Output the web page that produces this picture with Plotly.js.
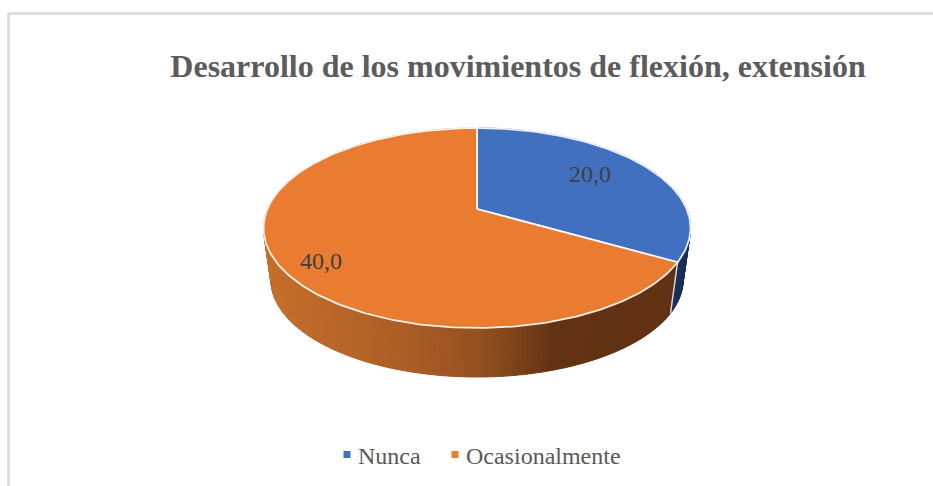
<!DOCTYPE html>
<html><head><meta charset="utf-8">
<script src="https://cdn.plot.ly/plotly-3.0.1.min.js"></script>
<style>html,body{margin:0;padding:0;background:#fff}#c{width:933px;height:486px}
.legendsymbols{transform:translateX(9px)}</style>
</head><body><div id="c"></div>
<script>
const categories = ["Nunca", "Ocasionalmente"];
const values = [20, 40];
const labels = ["20,0", "40,0"];
const colors = ["#4270C0", "#EA7C31"];
const chartTitle = "Desarrollo de los movimientos de flexión, extensión";

// Perspective projection of the pie disc onto the page
const cx = 477, tilt = 0.19;
const topDisc = {rx: 213.5, ry: 100, cy: 228};
const botDisc = {rx: 206, ry: 97, cy: 280};
function proj(d, r, thetaDeg){
  const t = thetaDeg * Math.PI / 180, u = r * Math.sin(t), v = r * Math.cos(t);
  const den = 1 + tilt * v;
  return [cx + d.rx * u * Math.sqrt(1 - tilt * tilt) / den, d.cy - d.ry * (v + tilt) / den];
}
function lerpHex(stops, x){
  let i = 0;
  while (i < stops.length - 2 && x > stops[i + 1][0]) i++;
  const a = stops[i], b = stops[i + 1];
  const f = Math.max(0, Math.min(1, (x - a[0]) / (b[0] - a[0])));
  return "rgb(" + [0,1,2].map(k => Math.round(a[1][k] + (b[1][k] - a[1][k]) * f)).join(",") + ")";
}
const orangeWall = [[265,[198,110,43]],[400,[172,94,38]],[480,[148,80,32]],[555,[98,50,19]],[700,[96,48,18]]];
const blueWall = [[640,[26,47,90]],[700,[26,47,90]]];
const wallStops = [blueWall, orangeWall];

const total = values.reduce((a, b) => a + b, 0);
const traces = [];
let start = 0;
const spans = values.map(v => { const s = [start, start + v / total * 360]; start = s[1]; return s; });

// side walls, drawn first so that the top covers them
spans.forEach((sp, i) => {
  const n = Math.max(4, Math.round(sp[1] - sp[0]));
  for (let k = 0; k < n; k++) {
    const a = sp[0] + (sp[1] - sp[0]) * k / n, b = sp[0] + (sp[1] - sp[0]) * (k + 1) / n;
    const p = [proj(topDisc,1,a), proj(topDisc,1,b), proj(botDisc,1,b), proj(botDisc,1,a), proj(topDisc,1,a)];
    const col = lerpHex(wallStops[i], (p[0][0] + p[1][0]) / 2);
    traces.push({x: p.map(q => q[0]), y: p.map(q => q[1]), mode: "lines", fill: "toself",
      fillcolor: col, line: {color: col, width: 1}, hoverinfo: "skip", showlegend: false});
  }
});
// seam between the two walls
const seamA = proj(topDisc,1,spans[0][1]), seamB = proj(botDisc,1,spans[0][1]);
traces.push({x:[seamA[0],seamB[0]], y:[seamA[1],seamB[1]], mode:"lines",
  line:{color:"rgba(255,255,255,0.8)",width:1.5}, hoverinfo:"skip", showlegend:false});

// top sectors
spans.forEach((sp, i) => {
  const xs = [cx], ys = [proj(topDisc,0,0)[1]];
  const n = Math.round(sp[1] - sp[0]);
  for (let k = 0; k <= n; k++) {
    const q = proj(topDisc, 1, sp[0] + (sp[1] - sp[0]) * k / n);
    xs.push(q[0]); ys.push(q[1]);
  }
  xs.push(xs[0]); ys.push(ys[0]);
  traces.push({x: xs, y: ys, mode: "lines", fill: "toself", fillcolor: colors[i],
    line: {color: "rgba(255,255,255,0.9)", width: 1.75}, name: categories[i], showlegend: false, hoverinfo: "name"});
});
// legend entries
categories.forEach((c, i) => traces.push({x:[null], y:[null], mode:"markers", name:c,
  marker:{symbol:"square", size:7, color:colors[i]}, showlegend:true}));

const labelPos = [[590,174],[321,261]];
const layout = {
  width: 933, height: 486, margin: {l:0,r:0,t:0,b:0},
  paper_bgcolor: "#fff", plot_bgcolor: "#fff",
  xaxis: {range:[0,933], visible:false, fixedrange:true},
  yaxis: {range:[486,0], visible:false, fixedrange:true},
  title: {text: chartTitle, x: 518/933, xanchor:"center", y: 1-66/486, yanchor:"middle",
    font:{family:"Liberation Serif", size:32, color:"#5c5c5c", weight:700}},
  showlegend: true,
  legend: {orientation:"h", x:472/933, xanchor:"center", y:1-455/486, yanchor:"middle",
    font:{family:"Liberation Serif", size:24, color:"#595959"}, itemwidth:30, traceorder:"normal"},
  annotations: labels.map((t,i) => ({x:labelPos[i][0], y:labelPos[i][1], text:t, showarrow:false,
    xanchor:"center", yanchor:"middle", font:{family:"Liberation Serif", size:24, color:"#404040"}})),
  shapes: [
    {type:"line", x0:8.5, x1:8.5, y0:13, y1:486, line:{color:"#d9d9d9", width:2.5}},
    {type:"line", x0:8, x1:933, y0:13.5, y1:13.5, line:{color:"#d9d9d9", width:2.5}}
  ]
};
Plotly.newPlot("c", traces, layout, {displayModeBar:false, staticPlot:true});
</script></body></html>
